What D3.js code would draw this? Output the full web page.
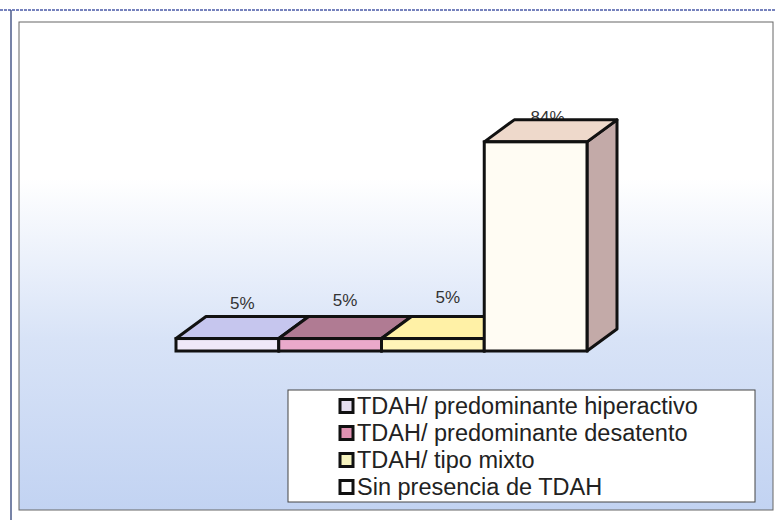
<!DOCTYPE html>
<html>
<head>
<meta charset="utf-8">
<script src="https://cdn.jsdelivr.net/npm/d3@7/dist/d3.min.js"></script>
<style>
  body { margin: 0; background: #fff; }
  svg { display: block; font-family: "Liberation Sans", Arial, sans-serif; }
</style>
</head>
<body>
<svg id="chart" width="775" height="520"></svg>
<script>
const width = 775;
const height = 520;

const categorias = [
  "TDAH/ predominante hiperactivo",
  "TDAH/ predominante desatento",
  "TDAH/ tipo mixto",
  "Sin presencia de TDAH"
];
const valores = [5, 5, 5, 84];
const etiquetas = ["5%", "5%", "5%", "84%"];

// colores de cada cara (frente, arriba, lado) y de la leyenda
const colorFrente = ["#efe9f8", "#eaa9cb", "#fff5b8", "#fffcf3"];
const colorArriba = ["#c6c6ee", "#b07b93", "#fff1a6", "#eed9cb"];
const colorLado = ["#9c9cc4", "#8a5c72", "#d8cc80", "#c3aaa8"];
const colorLeyenda = ["#e6dff0", "#e092b2", "#f6f3bf", "#ffffff"];

const svg = d3.select("#chart");

// fondo degradado
const defs = svg.append("defs");
const grad = defs.append("linearGradient")
  .attr("id", "fondo")
  .attr("x1", 0).attr("y1", 0).attr("x2", 0).attr("y2", 1);
grad.append("stop").attr("offset", "0%").attr("stop-color", "#ffffff");
grad.append("stop").attr("offset", "32%").attr("stop-color", "#ffffff");
grad.append("stop").attr("offset", "65%").attr("stop-color", "#d8e3f7");
grad.append("stop").attr("offset", "100%").attr("stop-color", "#c2d3f2");

// marco exterior
svg.append("line")
  .attr("x1", 0).attr("x2", width).attr("y1", 10).attr("y2", 10)
  .attr("stroke", "#4a5aa8").attr("stroke-width", 1.5)
  .attr("stroke-dasharray", "3,1");
svg.append("line")
  .attr("x1", 11).attr("x2", 11).attr("y1", 10).attr("y2", height)
  .attr("stroke", "#4a5a8a").attr("stroke-width", 1.5);

svg.append("rect")
  .attr("x", 19).attr("y", 22)
  .attr("width", 754).attr("height", 488)
  .attr("fill", "url(#fondo)")
  .attr("stroke", "#666").attr("stroke-width", 1);

// escalas
const x = d3.scaleBand()
  .domain(categorias)
  .range([176, 587])
  .padding(0);

const y = d3.scaleLinear()
  .domain([0, 100])
  .range([351, 102]);

const dx = 30, dy = -22;

const barras = svg.append("g");

categorias.forEach((c, i) => {
  const x0 = x(c), x1 = x(c) + x.bandwidth();
  const yt = y(valores[i]), yb = y(0);
  const g = barras.append("g");

  // etiqueta (se dibuja antes para que la cara superior la tape si hace falta)
  g.append("text")
    .attr("x", (x0 + x1) / 2 + dx / 2 - (i === 3 ? 3 : 0))
    .attr("y", i === 3 ? yt + dy + 3 : yt + dy / 2 - 19 - i * 3)
    .attr("text-anchor", "middle")
    .attr("font-size", 17)
    .attr("fill", "#333")
    .text(etiquetas[i]);

  g.append("path")
    .attr("d", `M${x1},${yt}L${x1 + dx},${yt + dy}L${x1 + dx},${yb + dy}L${x1},${yb}Z`)
    .attr("fill", colorLado[i])
    .attr("stroke", "#111").attr("stroke-width", 3).attr("stroke-linejoin", "round");

  g.append("path")
    .attr("d", `M${x0},${yt}L${x0 + dx},${yt + dy}L${x1 + dx},${yt + dy}L${x1},${yt}Z`)
    .attr("fill", colorArriba[i])
    .attr("stroke", "#111").attr("stroke-width", 3).attr("stroke-linejoin", "round");

  g.append("rect")
    .attr("x", x0).attr("y", yt)
    .attr("width", x1 - x0).attr("height", yb - yt)
    .attr("fill", colorFrente[i])
    .attr("stroke", "#111").attr("stroke-width", 3);
});

// leyenda
const leyenda = svg.append("g");
leyenda.append("rect")
  .attr("x", 288).attr("y", 390)
  .attr("width", 467).attr("height", 112)
  .attr("fill", "#fff")
  .attr("stroke", "#444").attr("stroke-width", 1);

const filaY = d3.scalePoint()
  .domain(categorias)
  .range([406, 487]);

categorias.forEach((c, i) => {
  const cy = filaY(c);
  leyenda.append("rect")
    .attr("x", 340).attr("y", cy - 6.5)
    .attr("width", 13).attr("height", 13)
    .attr("fill", colorLeyenda[i])
    .attr("stroke", "#111").attr("stroke-width", 3);
  leyenda.append("text")
    .attr("x", 357).attr("y", cy)
    .attr("dy", "0.36em")
    .attr("font-size", 23.5)
    .attr("fill", "#222")
    .text(c);
});
</script>
</body>
</html>
